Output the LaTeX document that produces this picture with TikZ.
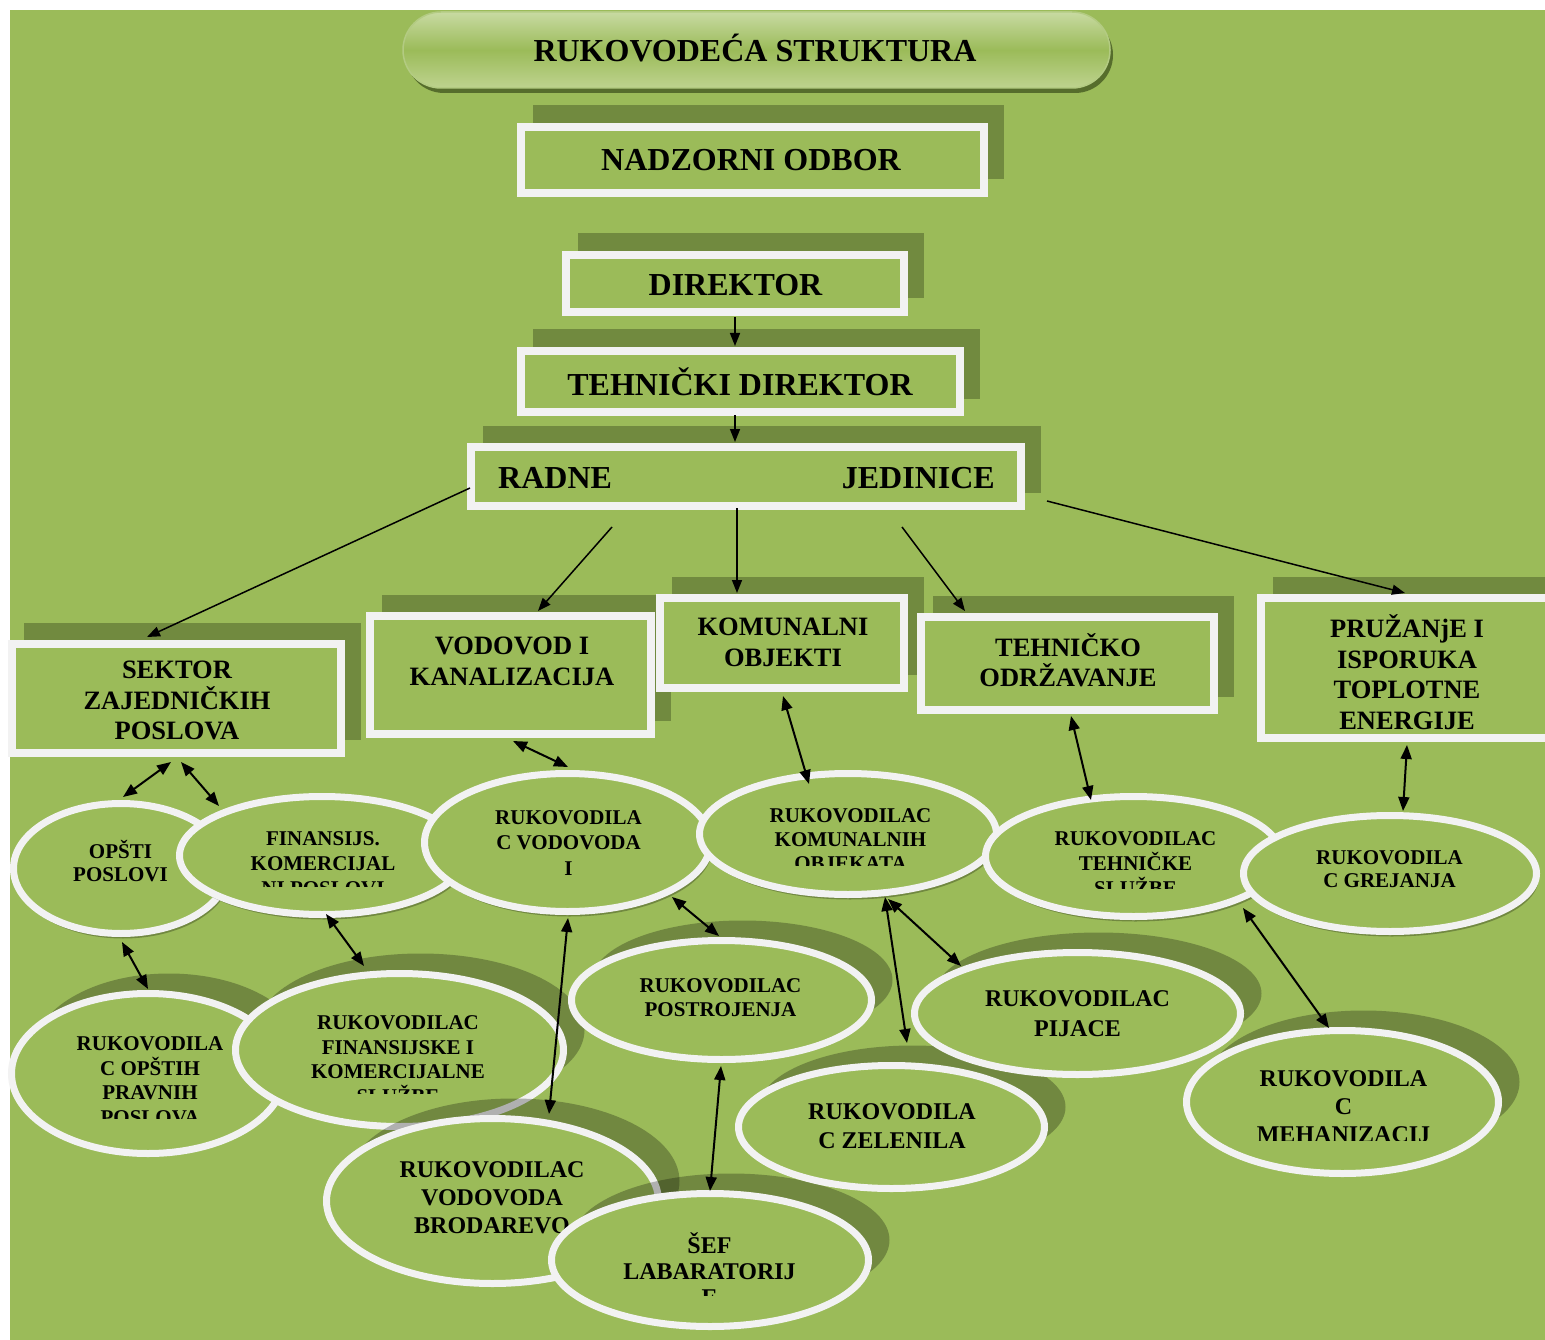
\documentclass[tikz,border=0pt]{standalone}
\usepackage{fontspec}
\setmainfont{Liberation Serif}
\usetikzlibrary{shapes.geometric,shadows,arrows.meta,calc}
\definecolor{bg}{HTML}{9BBB59}
\definecolor{rim}{HTML}{F2F2F2}
\definecolor{boxsh}{HTML}{718A3F}
\definecolor{pilltop}{HTML}{C8DAA2}
\definecolor{pillbot}{HTML}{BED38F}
\definecolor{pillsh}{HTML}{566D2C}
\definecolor{pilledge}{HTML}{B3CB82}
\pgfdeclarelayer{backdrop}
\pgfdeclarelayer{shade}
\pgfsetlayers{backdrop,shade,main}
\begin{document}
\begin{tikzpicture}[x=1pt,y=-1pt,
  sz/.style 2 args={minimum width=#1pt, minimum height=#2pt},
  pill/.style={rectangle, rounded corners=38pt, minimum width=707pt, minimum height=76pt, inner sep=0pt,
    draw=pilledge, line width=1.5pt, top color=pilltop, bottom color=pillbot, middle color=bg,
    drop shadow={shadow xshift=3pt, shadow yshift=-5pt, fill=pillsh, opacity=1}},
  box/.style={rectangle, draw=rim, line width=8pt, fill=bg, inner sep=0pt},
  ellA/.style={ellipse, draw=rim, line width=7pt, fill=bg, inner sep=0pt,
    drop shadow={shadow xshift=2pt, shadow yshift=-5pt, fill=black, opacity=0.27}},
  ellB/.style={ellipse, draw=rim, line width=7pt, fill=bg, inner sep=0pt,
    drop shadow={shadow xshift=21pt, shadow yshift=20pt, fill=black, opacity=0.27}},
  tA/.style={font=\fontsize{32}{36}\selectfont\bfseries, inner sep=0pt, align=center},
  tB/.style={font=\fontsize{26.5}{#1}\selectfont\bfseries, inner sep=0pt, align=center},
  tB/.default=30.5,
  tC/.style={font=\fontsize{21}{#1}\selectfont\bfseries, inner sep=0pt, align=center},
  tC/.default=24.5,
  tD/.style={font=\fontsize{24}{#1}\selectfont\bfseries, inner sep=0pt, align=center},
  tD/.default=28.5,
  conn/.style={-{Triangle[length=13pt,width=10pt]}, line width=1.5pt, black},
  dbl/.style={{Triangle[length=14pt,width=11pt]}-{Triangle[length=14pt,width=11pt]}, line width=2pt, black}
]
\useasboundingbox (0,0) rectangle (1545,1340);
\begin{pgfonlayer}{backdrop}
\fill[white] (0,0) rectangle (1545,1340);
\fill[bg] (10,10) rectangle (1545,1340);
\end{pgfonlayer}

% title
\node[pill] (title) at (756.5,50) {};
\node[tA] (title-t) at (755,48.5) {RUKOVODEĆA STRUKTURA};

% top boxes
\node[box, sz={463}{66}] (nadzor) at (752.5,160) {};
\node[tA] (nadzor-t) at (751,160) {NADZORNI ODBOR};
\node[box, sz={338}{57}] (direktor) at (735,283.5) {};
\node[tA] (direktor-t) at (735.5,285) {DIREKTOR};
\node[box, sz={439}{61}] (tehdir) at (740.5,381.5) {};
\node[tA] (tehdir-t) at (740,381.5) {TEHNIČKI DIREKTOR};
\node[box, sz={550}{59}] (radne) at (746,476.5) {};
\node[tA, anchor=west] (radne-t1) at (498,478) {RADNE};
\node[tA, anchor=east] (radne-t2) at (995,478) {JEDINICE};

% second level boxes
\node[box, sz={329}{109}] (sektor) at (176.5,698.5) {};
\node[tB] (sektor-t) at (177,700.5) {SEKTOR\\ZAJEDNIČKIH\\POSLOVA};
\node[box, sz={281}{118}] (vodovod) at (510.5,675) {};
\node[tB] (vodovod-t) at (512,661.5) {VODOVOD I\\KANALIZACIJA};
\node[box, sz={244}{90}] (komunal) at (782,643) {};
\node[tB] (komunal-t) at (783,642.5) {KOMUNALNI\\OBJEKTI};
\node[box, sz={293}{93}] (tehodr) at (1067.5,663.5) {};
\node[tB] (tehodr-t) at (1068,660) {TEHNIČKO\\ODRŽAVANJE};
\node[box, sz={295}{140}] (pruzanje) at (1408.5,668) {};
\node[tB=30.5] (pruzanje-t) at (1407,672) {PRUŽANjE I\\ISPORUKA\\TOPLOTNE\\ENERGIJE};

% shadows of the boxes
\begin{pgfonlayer}{shade}
\foreach \n in {nadzor,direktor,tehdir,radne,sektor,vodovod,komunal,tehodr,pruzanje}
  \fill[boxsh] ([shift={(15.5,-17.5)}]\n.south west) rectangle ([shift={(15.5,-17.5)}]\n.north east);
\end{pgfonlayer}

% first row of ellipses
\node[ellA, sz={215}{130}] (opsti) at (121,868.5) {};
\node[tC=22.5] (opsti-t) at (120.5,861) {OPŠTI\\POSLOVI};
\node[ellA, sz={285}{118}] (fin) at (322,855.5) {};
\begin{scope}
  \clip (150,815) rectangle (500,886);
  \node[tC=25] (fin-t) at (323,864) {FINANSIJS.\\KOMERCIJAL\\NI POSLOVI};
\end{scope}
\node[ellA, sz={286}{138}] (vodovoda) at (567.5,842.5) {};
\node[tC=25.5] (vodovoda-t) at (568.5,843) {RUKOVODILA\\C VODOVODA\\I};
\node[ellA, sz={297}{121}] (komel) at (848,834) {};
\begin{scope}
  \clip (690,790) rectangle (1000,865);
  \node[tC=24] (komel-t) at (850.5,840) {RUKOVODILAC\\KOMUNALNIH\\OBJEKATA};
\end{scope}
\node[ellA, sz={296}{120}] (tehsl) at (1133.5,856.5) {};
\begin{scope}
  \clip (980,810) rectangle (1290,888);
  \node[tC=25] (tehsl-t) at (1135.5,863.5) {RUKOVODILAC\\TEHNIČKE\\SLUŽBE};
\end{scope}
\node[ellA, sz={293}{116}] (grej) at (1390,873.5) {};
\node[tC=23] (grej-t) at (1389.5,869) {RUKOVODILA\\C GREJANJA};

% lower ellipses
\node[ellB, sz={273}{160}] (pravnih) at (148,1073.5) {};
\begin{scope}
  \clip (0,1020) rectangle (300,1118);
  \node[tC] (pravnih-t) at (150,1080.5) {RUKOVODILA\\C OPŠTIH\\PRAVNIH\\POSLOVA};
\end{scope}
\node[ellB, sz={328}{153}] (finsl) at (399.5,1050) {};
\begin{scope}
  \clip (230,1000) rectangle (570,1093);
  \node[tC] (finsl-t) at (398,1059.5) {RUKOVODILAC\\FINANSIJSKE I\\KOMERCIJALNE\\SLUŽBE};
\end{scope}
\node[ellB, sz={332}{165}] (brod) at (492.5,1201) {};
\node[tD=28] (brod-t) at (492,1198) {RUKOVODILAC\\VODOVODA\\BRODAREVO};
\node[ellB, sz={317}{133}] (sef) at (710,1260) {};
\begin{scope}
  \clip (550,1220) rectangle (870,1295);
  \node[tD=26] (sef-t) at (709.5,1269) {ŠEF\\LABARATORIJ\\E};
\end{scope}
\node[ellB, sz={300}{119}] (postr) at (721.5,1000) {};
\node[tC=24] (postr-t) at (720.5,997.5) {RUKOVODILAC\\POSTROJENJA};
\node[ellB, sz={312}{143}] (meh) at (1342.5,1102) {};
\begin{scope}
  \clip (1180,1050) rectangle (1510,1140);
  \node[tD=28] (meh-t) at (1343.5,1107) {RUKOVODILA\\C\\MEHANIZACIJ};
\end{scope}
\node[ellB, sz={306}{123}] (zel) at (891.5,1127) {};
\node[tD=29] (zel-t) at (892,1126) {RUKOVODILA\\C ZELENILA};
\node[ellB, sz={326}{122}] (pijace) at (1077.5,1013.5) {};
\node[tD=30] (pijace-t) at (1077.5,1013.5) {RUKOVODILAC\\PIJACE};

% single arrows
\draw[conn] ($(direktor)+(0,33.5)$) -- ($(tehdir)+(-5.5,-35.5)$);
\draw[conn] ($(tehdir)+(-5.5,33.5)$) -- ($(radne)+(-11,-34.5)$);
\draw[conn] ($(radne)+(-276,11.5)$) -- ($(sektor)+(-29.5,-61.5)$);
\draw[conn] ($(radne)+(-134,50.5)$) -- ($(vodovod)+(27.5,-64)$);
\draw[conn] ($(radne)+(-9,31.5)$) -- ($(komunal)+(-45,-50)$);
\draw[conn] ($(radne)+(156,50.5)$) -- ($(tehodr)+(-102.5,-52.5)$);
\draw[conn] ($(radne)+(301,24.5)$) -- ($(pruzanje)+(-3.5,-75)$);

% double arrows
\draw[dbl] ($(sektor)+(-5.5,63.5)$) -- ($(opsti)+(2,-71.5)$);
\draw[dbl] ($(sektor)+(4.5,63.5)$) -- ($(fin)+(-103,-49.5)$);
\draw[dbl] ($(opsti)+(1,73.5)$) -- ($(pravnih)+(0,-84.5)$);
\draw[dbl] ($(fin)+(4,58.5)$) -- ($(finsl)+(-35.5,-84)$);
\draw[dbl] ($(vodovod)+(2.5,66)$) -- ($(vodovoda)+(0.5,-75.5)$);
\draw[dbl] ($(vodovoda)+(0.5,75.5)$) -- ($(brod)+(56.5,-87)$);
\draw[dbl] ($(vodovoda)+(104.5,54.5)$) -- ($(postr)+(-2.5,-64)$);
\draw[dbl] ($(postr)+(-0.5,66)$) -- ($(sef)+(0,-69)$);
\draw[dbl] ($(komunal)+(1,53)$) -- ($(komel)+(-39,-50)$);
\draw[dbl] ($(komel)+(37,63)$) -- ($(zel)+(15.5,-84)$);
\draw[dbl] ($(komel)+(40,65)$) -- ($(pijace)+(-116.5,-47.5)$);
\draw[dbl] ($(tehodr)+(3.5,52.5)$) -- ($(tehsl)+(-42.5,-56.5)$);
\draw[dbl] ($(tehsl)+(109.5,51.5)$) -- ($(meh)+(-13.5,-74)$);
\draw[dbl] ($(pruzanje)+(-1.5,77)$) -- ($(grej)+(13,-62.5)$);
\end{tikzpicture}
\end{document}
